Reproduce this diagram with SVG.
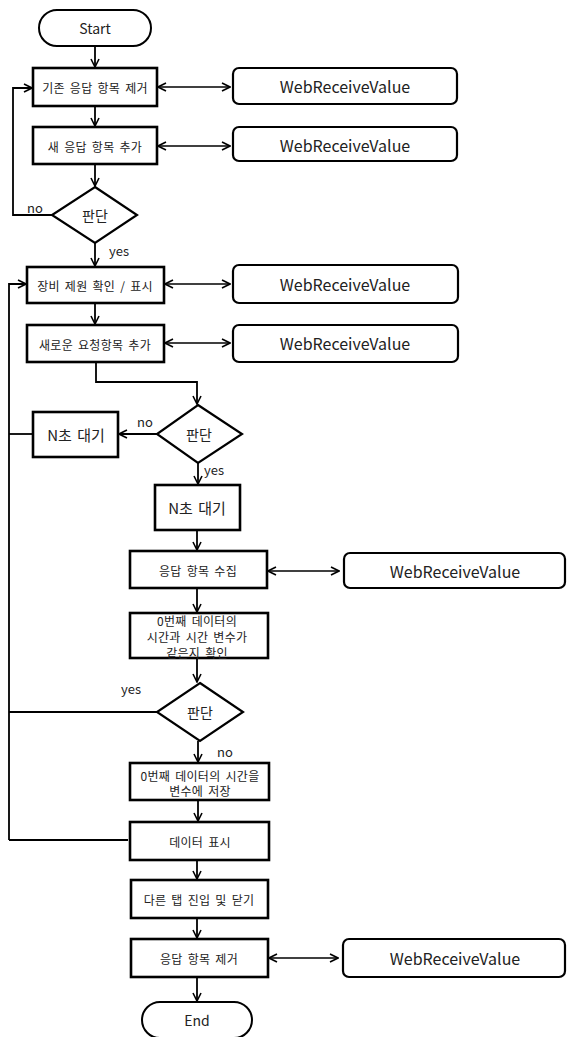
<svg xmlns="http://www.w3.org/2000/svg" width="567" height="1037" viewBox="0 0 567 1037">
<defs>
<marker id="ah" viewBox="0 0 10 10" refX="9" refY="5" markerWidth="10" markerHeight="10" markerUnits="userSpaceOnUse" orient="auto-start-reverse">
<path d="M1,1 L9,5 L1,9" fill="none" stroke="#000" stroke-width="1.6"/>
</marker>
<style>
.box{fill:#fff;stroke:#000;stroke-width:2.6}
.term{fill:#fff;stroke:#000;stroke-width:2}
.dia{fill:#fff;stroke:#000;stroke-width:2.2}
.wrv{fill:#fff;stroke:#000;stroke-width:2.2}
.ln{fill:none;stroke:#000;stroke-width:1.8}
.arr{fill:none;stroke:#000;stroke-width:1.8;marker-end:url(#ah)}
.dbl{fill:none;stroke:#000;stroke-width:1.6;marker-end:url(#ah);marker-start:url(#ah)}
text{font-family:"Noto Sans CJK KR","Noto Sans",sans-serif;fill:#222;text-anchor:middle;dominant-baseline:central}
.k{font-size:12px;letter-spacing:0.3px;word-spacing:2px}
.kb{font-size:15px;word-spacing:2px}
.w{font-size:16px}
.lbl{font-size:13px;text-anchor:start}
</style>
</defs>
<rect width="567" height="1037" fill="#fff"/>
<g id="connectors">
<line class="arr" x1="95" y1="46" x2="95" y2="67"/>
<line class="arr" x1="95" y1="106" x2="95" y2="126"/>
<line class="arr" x1="95" y1="164" x2="95" y2="186"/>
<polyline class="arr" points="52,215 13,215 13,88 32,88"/>
<line class="arr" x1="95" y1="243" x2="95" y2="266"/>
<line class="arr" x1="95" y1="303" x2="95" y2="324"/>
<polyline class="arr" points="96,362 96,382 197,382 197,404"/>
<line class="arr" x1="157" y1="434" x2="119" y2="434"/>
<line class="ln" x1="33" y1="434" x2="9" y2="434"/>
<polyline class="arr" points="9,840 9,284 26,284"/>
<line class="arr" x1="198" y1="463" x2="198" y2="484"/>
<line class="arr" x1="197" y1="530" x2="197" y2="550"/>
<line class="arr" x1="197" y1="588" x2="197" y2="612"/>
<line class="arr" x1="197" y1="658" x2="197" y2="682"/>
<line class="ln" x1="157" y1="712" x2="9" y2="712"/>
<line class="arr" x1="198" y1="741" x2="198" y2="762"/>
<line class="arr" x1="198" y1="800" x2="198" y2="821"/>
<line class="ln" x1="128" y1="840" x2="9" y2="840"/>
<line class="arr" x1="197" y1="860" x2="197" y2="879"/>
<line class="arr" x1="197" y1="918" x2="197" y2="938"/>
<line class="arr" x1="197" y1="977" x2="197" y2="1001"/>
<line class="dbl" x1="158" y1="87" x2="230" y2="87"/>
<line class="dbl" x1="158" y1="146" x2="230" y2="146"/>
<line class="dbl" x1="165" y1="284" x2="230" y2="284"/>
<line class="dbl" x1="165" y1="343" x2="230" y2="343"/>
<line class="dbl" x1="268" y1="571" x2="339" y2="571"/>
<line class="dbl" x1="269" y1="958" x2="338" y2="958"/>
<text class="lbl" x="27" y="207">no</text>
<text class="lbl" x="109" y="250">yes</text>
<text class="lbl" x="137" y="421">no</text>
<text class="lbl" x="204" y="469">yes</text>
<text class="lbl" x="121" y="688">yes</text>
<text class="lbl" x="217" y="751">no</text>
</g>
<g id="start"><rect class="term" x="39" y="10" width="112" height="36" rx="18"/><text x="95" y="28" font-size="14">Start</text></g>
<g id="n1"><rect class="box" x="33" y="68" width="124" height="38"/><text class="k" x="95" y="87">기존 응답 항목 제거</text></g>
<g id="w1"><rect class="wrv" x="233" y="68" width="224" height="36" rx="6"/><text class="w" x="345" y="86">WebReceiveValue</text></g>
<g id="n2"><rect class="box" x="33" y="127" width="124" height="37"/><text class="k" x="95" y="146">새 응답 항목 추가</text></g>
<g id="w2"><rect class="wrv" x="233" y="127" width="224" height="34" rx="6"/><text class="w" x="345" y="145">WebReceiveValue</text></g>
<g id="d1"><polygon class="dia" points="95,187 137,215 95,243 52,215"/><text x="95" y="215" font-size="14">판단</text></g>
<g id="n3"><rect class="box" x="27" y="267" width="137" height="36"/><text class="k" x="95" y="285">장비 제원 확인 / 표시</text></g>
<g id="w3"><rect class="wrv" x="233" y="265" width="225" height="38" rx="6"/><text class="w" x="345" y="284">WebReceiveValue</text></g>
<g id="n4"><rect class="box" x="27" y="325" width="137" height="37"/><text class="k" x="95" y="344">새로운 요청항목 추가</text></g>
<g id="w4"><rect class="wrv" x="233" y="325" width="225" height="37" rx="6"/><text class="w" x="345" y="343">WebReceiveValue</text></g>
<g id="d2"><polygon class="dia" points="198,405 242,434 198,463 157,434"/><text x="199" y="434" font-size="14">판단</text></g>
<g id="n5"><rect class="box" x="33" y="412" width="85" height="45"/><text class="kb" x="76" y="434">N초 대기</text></g>
<g id="n6"><rect class="box" x="155" y="485" width="85" height="45"/><text class="kb" x="197" y="507">N초 대기</text></g>
<g id="n7"><rect class="box" x="130" y="551" width="137" height="37"/><text class="k" x="198" y="570">응답 항목 수집</text></g>
<g id="w5"><rect class="wrv" x="344" y="553" width="221" height="35" rx="6"/><text class="w" x="455" y="571">WebReceiveValue</text></g>
<g id="n8"><rect class="box" x="130" y="613" width="138" height="45"/><text class="k" x="197" y="620">0번째 데이터의</text><text class="k" x="197" y="636">시간과 시간 변수가</text><text class="k" x="197" y="652">같은지 확인</text></g>
<g id="d3"><polygon class="dia" points="200,683 243,712 200,741 157,712"/><text x="200" y="712" font-size="14">판단</text></g>
<g id="n9"><rect class="box" x="130" y="763" width="139" height="37"/><text class="k" x="200" y="775">0번째 데이터의 시간을</text><text class="k" x="200" y="790">변수에 저장</text></g>
<g id="n10"><rect class="box" x="130" y="822" width="139" height="38"/><text class="k" x="200" y="841">데이터 표시</text></g>
<g id="n11"><rect class="box" x="131" y="880" width="137" height="38"/><text class="k" x="199" y="899">다른 탭 진입 및 닫기</text></g>
<g id="n12"><rect class="box" x="131" y="939" width="137" height="38"/><text class="k" x="199" y="958">응답 항목 제거</text></g>
<g id="w6"><rect class="wrv" x="343" y="939" width="222" height="38" rx="6"/><text class="w" x="455" y="958">WebReceiveValue</text></g>
<g id="end"><rect class="term" x="142" y="1002" width="110" height="36" rx="18"/><text x="197" y="1020" font-size="14">End</text></g>
</svg>
